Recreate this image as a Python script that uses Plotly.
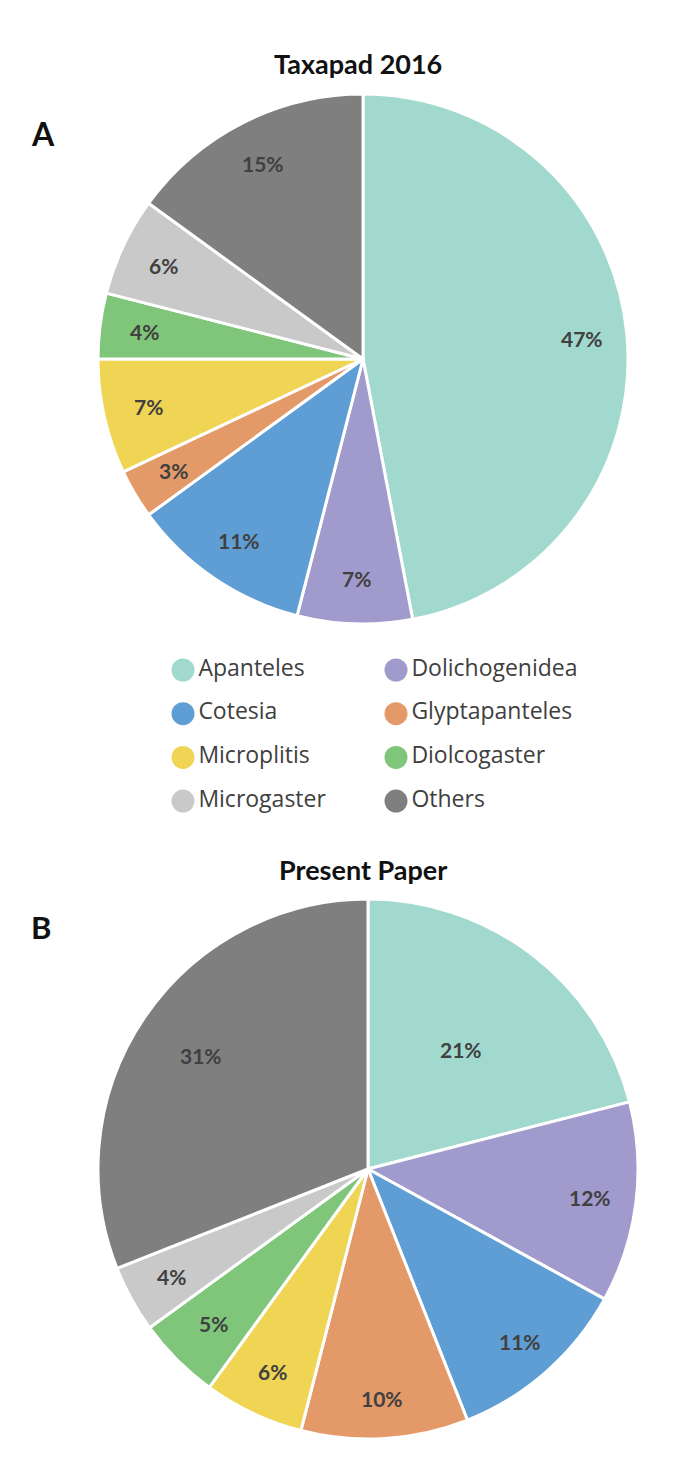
import math
import plotly.graph_objects as go

genera = ["Apanteles", "Dolichogenidea", "Cotesia", "Glyptapanteles",
          "Microplitis", "Diolcogaster", "Microgaster", "Others"]
taxapad_2016 = [47, 7, 11, 3, 7, 4, 6, 15]
present_paper = [21, 12, 11, 10, 6, 5, 4, 31]
colors = ["#A2D9CE", "#A09BCC", "#5F9ED4", "#E49A68",
          "#F0D453", "#7FC57A", "#C9C9C9", "#7F7F7F"]

# radial placement of the percentage labels (fraction of the radius), styling only
label_radius_a = [0.83] * 8
label_radius_b = [0.56, 0.83, 0.85, 0.85, 0.83, 0.81, 0.83, 0.75]

W, H = 698, 1460
PIE_A = (355, 351, 265)   # centre x, centre y (px from top), radius
PIE_B = (360, 1161, 270)


def pie_domain(cx, cy, r):
    return dict(x=[(cx - r) / W, (cx + r) / W],
                y=[(H - cy - r) / H, (H - cy + r) / H])


def pie_labels(vals, geom, fracs):
    cx, cy, r = geom
    total = float(sum(vals))
    out, cum = [], 0.0
    for v, f in zip(vals, fracs):
        ang = math.radians((cum + v / 2.0) / total * 360.0)
        cum += v
        px = cx + f * r * math.sin(ang)
        py = cy - f * r * math.cos(ang)
        out.append(dict(text="<b>%d%%</b>" % v, x=px / W, y=1 - py / H,
                        xref="paper", yref="paper", xanchor="center",
                        yanchor="middle", showarrow=False,
                        font=dict(family="Lato", size=21, color="#404040")))
    return out


fig = go.Figure()
for vals, geom in [(taxapad_2016, PIE_A), (present_paper, PIE_B)]:
    fig.add_trace(go.Pie(
        labels=genera, values=vals, sort=False, direction="clockwise",
        rotation=0, domain=pie_domain(*geom), showlegend=False,
        marker=dict(colors=colors, line=dict(color="white", width=3)),
        textinfo="none", hoverinfo="label+percent"))

# legend drawn as a scatter (two columns, four rows)
cols = [i % 2 for i in range(len(genera))]
rows = [i // 2 for i in range(len(genera))]
fig.add_trace(go.Scatter(
    x=cols, y=rows, mode="markers+text",
    text=genera, textposition="middle right",
    textfont=dict(family="Open Sans", size=23, color="#404040"),
    marker=dict(size=23, color=colors, symbol="circle"),
    showlegend=False, hoverinfo="skip", cliponaxis=False))

# axis mapping so col 0 -> x=175px, col 1 -> x=388px; row 0 -> y=662px, step 43.7px
col_step = 213.0
x0 = -175 / col_step
x1 = x0 + W / col_step
row_step = 43.7
y_top = -662 / row_step
y_bot = y_top + H / row_step


def ann(text, x, y, size):
    return dict(text=text, x=x / W, y=1 - y / H, xref="paper", yref="paper",
                xanchor="center", yanchor="middle", showarrow=False,
                font=dict(family="Lato", size=size, color="#111111"))


annotations = [
    ann("<b>Taxapad 2016</b>", 350, 56, 27),
    ann("<b>Present Paper</b>", 355, 861, 27),
    ann("<b>A</b>", 35, 125, 32),
    ann("<b>B</b>", 33, 919, 31),
]
annotations += pie_labels(taxapad_2016, PIE_A, label_radius_a)
annotations += pie_labels(present_paper, PIE_B, label_radius_b)

fig.update_layout(
    width=W, height=H, margin=dict(l=0, r=0, t=0, b=0),
    paper_bgcolor="white", plot_bgcolor="rgba(0,0,0,0)",
    xaxis=dict(domain=[0, 1], range=[x0, x1], visible=False, fixedrange=True),
    yaxis=dict(domain=[0, 1], range=[y_bot, y_top], visible=False, fixedrange=True),
    annotations=annotations,
)

fig.write_html("out.html")
